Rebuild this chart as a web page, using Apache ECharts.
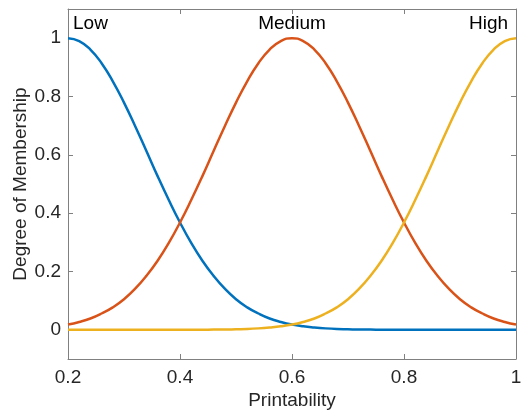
<!DOCTYPE html>
<html>
<head>
<meta charset="utf-8">
<script src="https://cdn.jsdelivr.net/npm/echarts@6/dist/echarts.min.js"></script>
<style>html,body{margin:0;padding:0;background:#fff}#c{width:526px;height:415px}</style>
</head>
<body>
<div id="c"></div>
<script>
var printability = [0.2,0.22,0.24,0.26,0.28,0.3,0.32,0.34,0.36,0.38,0.4,0.42,0.44,0.46,0.48,0.5,0.52,0.54,0.56,0.58,0.6,0.62,0.64,0.66,0.68,0.7,0.72,0.74,0.76,0.78,0.8,0.82,0.84,0.86,0.88,0.9,0.92,0.94,0.96,0.98,1.0];
var lowMembership = [1,0.990,0.961,0.914,0.852,0.779,0.698,0.613,0.527,0.445,0.368,0.298,0.237,0.185,0.141,0.105,0.077,0.056,0.039,0.027,0.018,0.012,0.008,0.005,0.003,0.002,0.001,0.001,0,0,0,0,0,0,0,0,0,0,0,0,0];
var mediumMembership = [0.018,0.027,0.039,0.056,0.077,0.105,0.141,0.185,0.237,0.298,0.368,0.445,0.527,0.613,0.698,0.779,0.852,0.914,0.961,0.990,1,0.990,0.961,0.914,0.852,0.779,0.698,0.613,0.527,0.445,0.368,0.298,0.237,0.185,0.141,0.105,0.077,0.056,0.039,0.027,0.018];
var highMembership = [0,0,0,0,0,0,0,0,0,0,0,0,0,0.001,0.001,0.002,0.003,0.005,0.008,0.012,0.018,0.027,0.039,0.056,0.077,0.105,0.141,0.185,0.237,0.298,0.368,0.445,0.527,0.613,0.698,0.779,0.852,0.914,0.961,0.990,1];
var xTicks = [0.2,0.4,0.6,0.8,1];
var yTicks = [0,0.2,0.4,0.6,0.8,1];
var annotations = [
  {name:'Low', x:0.209, y:1.05, align:'left'},
  {name:'Medium', x:0.6, y:1.05, align:'center'},
  {name:'High', x:0.986, y:1.05, align:'right'}
];

function pairs(xs, ys){ return xs.map(function(x,i){return [x, ys[i]];}); }
function fmt(v){ return String(Math.round(v*10)/10); }

var FONT = '"Liberation Sans", Arial, Helvetica, sans-serif';
var AX = '#808080';
var TXT = '#262626';
var FS = 19;

var chart = echarts.init(document.getElementById('c'), null, {renderer:'canvas'});
var axisCommon = {
  axisLine:{show:true, onZero:false, lineStyle:{color:AX, width:1}},
  splitLine:{show:false}
};
chart.setOption({
  animation:false,
  backgroundColor:'#fff',
  grid:{left:68, right:10, top:9, bottom:56, containLabel:false, outerBoundsMode:'none'},
  xAxis:[
    Object.assign({}, axisCommon, {
      type:'value', min:0.2, max:1, position:'bottom',
      name:'Printability', nameLocation:'middle', nameGap:32, nameMoveOverlap:false,
      nameTextStyle:{fontFamily:FONT, fontSize:FS, color:TXT},
      axisTick:{show:true, inside:true, length:5, lineStyle:{color:AX}, customValues:xTicks},
      axisLabel:{show:true, customValues:xTicks, formatter:fmt, fontFamily:FONT, fontSize:FS, color:TXT, margin:9}
    }),
    Object.assign({}, axisCommon, {
      type:'value', min:0.2, max:1, position:'top',
      axisTick:{show:true, inside:true, length:5, lineStyle:{color:AX}, customValues:xTicks},
      axisLabel:{show:false}
    })
  ],
  yAxis:[
    Object.assign({}, axisCommon, {
      type:'value', min:-0.1, max:1.1, position:'left',
      name:'Degree of Membership', nameLocation:'middle', nameGap:38, nameMoveOverlap:false,
      nameTextStyle:{fontFamily:FONT, fontSize:FS, color:TXT},
      axisTick:{show:true, inside:true, length:5, lineStyle:{color:AX}, customValues:yTicks},
      axisLabel:{show:true, customValues:yTicks, formatter:fmt, fontFamily:FONT, fontSize:FS, color:TXT, margin:7}
    }),
    Object.assign({}, axisCommon, {
      type:'value', min:-0.1, max:1.1, position:'right',
      axisTick:{show:true, inside:true, length:5, lineStyle:{color:AX}, customValues:yTicks},
      axisLabel:{show:false}
    })
  ],
  series:[
    {type:'line', name:'Low', data:pairs(printability, lowMembership), smooth:true, showSymbol:false,
     lineStyle:{color:'#0072BD', width:2.5}, itemStyle:{color:'#0072BD'}},
    {type:'line', name:'Medium', data:pairs(printability, mediumMembership), smooth:true, showSymbol:false,
     lineStyle:{color:'#D95319', width:2.5}, itemStyle:{color:'#D95319'}},
    {type:'line', name:'High', data:pairs(printability, highMembership), smooth:true, showSymbol:false,
     lineStyle:{color:'#EDB120', width:2.5}, itemStyle:{color:'#EDB120'}},
    {type:'scatter', symbolSize:1, silent:true, itemStyle:{color:'#fff', opacity:1},
     label:{show:true, position:'inside', fontFamily:FONT, fontSize:FS, color:'#000', opacity:1,
            textBorderWidth:0, verticalAlign:'middle'},
     data:annotations.map(function(a){
       return {value:[a.x, a.y], label:{formatter:a.name, align:a.align}};
     })}
  ]
});
</script>
</body>
</html>
